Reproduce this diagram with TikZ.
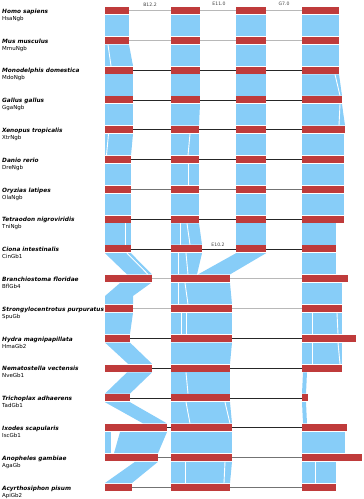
\documentclass[tikz,border=0pt]{standalone}
\usepackage{fontspec}
\setmainfont{DejaVu Sans}
\usepackage{tikz}
\usetikzlibrary{positioning}
\definecolor{exonred}{RGB}{191,59,59}
\definecolor{bandblue}{RGB}{135,205,248}

% band between row #1 and row #1+1
\newcommand{\setband}[1]{\pgfmathsetmacro{\bandtop}{10.5+29.8*(#1-1)+4.3}\pgfmathsetmacro{\bandbot}{10.5+29.8*#1-4.3}}
\newcommand{\band}[5]{\setband{#1}\fill[bandfill] (#2,\bandtop) -- (#3,\bandtop) -- (#4,\bandbot) -- (#5,\bandbot) -- cycle;}
\newcommand{\slit}[3]{\setband{#1}\draw[slitline] (#2,\bandtop) -- (#3,\bandbot);}
\newcommand{\exonbar}[4]{\node[exon,minimum width={(#3-#2)*1pt},anchor=west] (#1) at (#2,#4) {};}

\begin{document}
\begin{tikzpicture}[x=1pt,y=-1pt,
   exon/.style={rectangle,fill=exonred,draw=none,minimum height=7pt,inner sep=0pt,outer sep=0pt},
   bandfill/.style={fill=bandblue},
   slitline/.style={draw=white,line width=0.9pt},
   introlight/.style={draw=black!28,line width=0.8pt},
   introdark/.style={draw=black!85,line width=0.8pt},
   intromid/.style={draw=black!55,line width=0.8pt},
   sp/.style={anchor=base west,inner sep=0pt,font=\fontsize{5.8}{6}\selectfont\bfseries\itshape},
   gn/.style={anchor=base west,inner sep=0pt,font=\fontsize{5.5}{6}\selectfont},
   posnote/.style={inner sep=0pt,text=black!75,font=\fontsize{4.6}{5}\selectfont}]
  \useasboundingbox (0,0) rectangle (364,499);
  % species and gene names
  \node[sp] (hsa) at (2,13.2) {Homo sapiens};
  \node[gn] (hsag) at (2,20.3) {HsaNgb};
  \node[sp] (mmu) at (2,43) {Mus musculus};
  \node[gn] (mmug) at (2,50.1) {MmuNgb};
  \node[sp] (mdo) at (2,72.8) {Monodelphis domestica};
  \node[gn] (mdog) at (2,79.9) {MdoNgb};
  \node[sp] (gga) at (2,102.6) {Gallus gallus};
  \node[gn] (ggag) at (2,109.7) {GgaNgb};
  \node[sp] (xtr) at (2,132.4) {Xenopus tropicalis};
  \node[gn] (xtrg) at (2,139.5) {XtrNgb};
  \node[sp] (dre) at (2,162.2) {Danio rerio};
  \node[gn] (dreg) at (2,169.3) {DreNgb};
  \node[sp] (ola) at (2,192) {Oryzias latipes};
  \node[gn] (olag) at (2,199.1) {OlaNgb};
  \node[sp] (tni) at (2,221.8) {Tetraodon nigroviridis};
  \node[gn] (tnig) at (2,228.9) {TniNgb};
  \node[sp] (cin) at (2,251.6) {Ciona intestinalis};
  \node[gn] (cing) at (2,258.7) {CinGb1};
  \node[sp] (bfl) at (2,281.4) {Branchiostoma floridae};
  \node[gn] (bflg) at (2,288.5) {BflGb4};
  \node[sp] (spu) at (2,311.2) {Strongylocentrotus purpuratus};
  \node[gn] (spug) at (2,318.3) {SpuGb};
  \node[sp] (hma) at (2,341) {Hydra magnipapillata};
  \node[gn] (hmag) at (2,348.1) {HmaGb2};
  \node[sp] (nve) at (2,370.8) {Nematostella vectensis};
  \node[gn] (nveg) at (2,377.9) {NveGb1};
  \node[sp] (tad) at (2,400.6) {Trichoplax adhaerens};
  \node[gn] (tadg) at (2,407.7) {TadGb1};
  \node[sp] (isc) at (2,430.4) {Ixodes scapularis};
  \node[gn] (iscg) at (2,437.5) {IscGb1};
  \node[sp] (aga) at (2,460.2) {Anopheles gambiae};
  \node[gn] (agag) at (2,467.3) {AgaGb};
  \node[sp] (api) at (2,490) {Acyrthosiphon pisum};
  \node[gn] (apig) at (2,497.1) {ApiGb2};
  % aligned blocks, first exon
  \band{1}{105}{129}{129}{105}
  \band{2}{105}{129}{133}{105} \slit{2}{108}{111}
  \band{3}{105}{133}{133}{105}
  \band{4}{105}{133}{133}{105}
  \band{5}{105}{133}{131}{105} \slit{5}{108.5}{106.5}
  \band{6}{105}{131}{131}{105}
  \band{7}{105}{131}{131}{105}
  \band{8}{105}{131}{131}{105} \slit{8}{125}{125}
  \band{9}{105}{131}{152}{127} \slit{9}{127}{148}
  \setband{10}
  \fill[bandfill] (120,\bandtop) -- (151,\bandtop) -- (133,{\bandtop+13}) -- (133,\bandbot)
     -- (105,\bandbot) -- (105,{\bandtop+13}) -- cycle;
  \band{11}{105}{133}{130}{105}
  \band{12}{105}{130}{152}{128}
  \band{13}{127}{152}{130}{105}
  \band{14}{105}{130}{167}{143}
  \band{15}{105}{111}{111}{105}
  \band{15}{120}{167}{158}{114}
  \band{16}{135}{158}{132}{105}
  % aligned blocks, middle exons
  \band{1}{171}{200}{200}{171}
  \band{2}{171}{200}{200}{171}
  \band{3}{171}{200}{200}{171}
  \band{4}{171}{200}{199}{171}
  \band{5}{171}{199}{199}{171} \slit{5}{190}{188}
  \band{6}{171}{199}{199}{171} \slit{6}{188}{188}
  \band{7}{171}{199}{199}{171}
  \band{8}{171}{199}{202}{171} \slit{8}{180}{180} \slit{8}{187}{190}
  \band{9}{171}{202}{197}{171} \slit{9}{178}{178} \slit{9}{186}{188}
  \band{9}{236}{266}{230}{198}
  \band{10}{171}{230}{232}{171} \slit{10}{178}{178} \slit{10}{185}{188}
  \band{11}{171}{232}{232}{171} \slit{11}{181}{181} \slit{11}{186}{186}
  \band{12}{171}{232}{230}{171}
  \band{13}{171}{230}{230}{171} \slit{13}{186}{188}
  \band{14}{171}{230}{232}{171} \slit{14}{186}{190} \slit{14}{225}{230}
  \band{15}{171}{232}{232}{171}
  \band{16}{171}{232}{230}{171} \slit{16}{185}{185} \slit{16}{225}{224}
  \foreach \r in {1,...,8}{\band{\r}{236}{266}{266}{236}}
  % aligned blocks, last exon
  \band{1}{302}{339}{339}{302}
  \band{2}{302}{339}{339}{302}
  \band{3}{302}{339}{342}{302} \slit{3}{335}{340}
  \band{4}{302}{342}{345}{302} \slit{4}{340}{339}
  \band{5}{302}{344}{344}{302}
  \band{6}{302}{344}{344}{302}
  \band{7}{302}{344}{344}{302}
  \band{8}{302}{336}{336}{302}
  \band{9}{302}{336}{336}{302}
  \band{10}{302}{342}{342}{302}
  \band{11}{302}{342}{342}{302} \slit{11}{312}{312} \slit{11}{337}{338}
  \band{12}{302}{342}{342}{302} \slit{12}{312}{312} \slit{12}{338}{340}
  \band{13}{303}{307}{306}{302}
  \band{14}{302}{306}{307}{303}
  \band{15}{302}{345}{345}{302}
  \band{16}{302}{336}{336}{302} \slit{16}{315}{315}
  % exons
  \exonbar{hsa1}{105}{129}{10.5} \exonbar{hsa2}{171}{200}{10.5} \exonbar{hsa3}{236}{266}{10.5} \exonbar{hsa4}{302}{339}{10.5}
  \exonbar{mmu1}{105}{129}{40.3} \exonbar{mmu2}{171}{200}{40.3} \exonbar{mmu3}{236}{266}{40.3} \exonbar{mmu4}{302}{339}{40.3}
  \exonbar{mdo1}{105}{133}{70.1} \exonbar{mdo2}{171}{200}{70.1} \exonbar{mdo3}{236}{266}{70.1} \exonbar{mdo4}{302}{339}{70.1}
  \exonbar{gga1}{105}{133}{99.9} \exonbar{gga2}{171}{200}{99.9} \exonbar{gga3}{236}{266}{99.9} \exonbar{gga4}{302}{342}{99.9}
  \exonbar{xtr1}{105}{133}{129.7} \exonbar{xtr2}{171}{199}{129.7} \exonbar{xtr3}{236}{266}{129.7} \exonbar{xtr4}{302}{345}{129.7}
  \exonbar{dre1}{105}{131}{159.5} \exonbar{dre2}{171}{199}{159.5} \exonbar{dre3}{236}{266}{159.5} \exonbar{dre4}{302}{344}{159.5}
  \exonbar{ola1}{105}{131}{189.3} \exonbar{ola2}{171}{199}{189.3} \exonbar{ola3}{236}{266}{189.3} \exonbar{ola4}{302}{344}{189.3}
  \exonbar{tni1}{105}{131}{219.1} \exonbar{tni2}{171}{199}{219.1} \exonbar{tni3}{236}{266}{219.1} \exonbar{tni4}{302}{344}{219.1}
  \exonbar{cin1}{105}{131}{248.9} \exonbar{cin2}{171}{202}{248.9} \exonbar{cin3}{236}{266}{248.9} \exonbar{cin4}{302}{336}{248.9}
  \exonbar{bfl1}{105}{152}{278.7} \exonbar{bfl2}{171}{230}{278.7} \exonbar{bfl4}{302}{348}{278.7}
  \exonbar{spu1}{105}{133}{308.5} \exonbar{spu2}{171}{232}{308.5} \exonbar{spu4}{302}{342}{308.5}
  \exonbar{hma1}{105}{130}{338.3} \exonbar{hma2}{171}{232}{338.3} \exonbar{hma4}{302}{356}{338.3}
  \exonbar{nve1}{105}{152}{368.1} \exonbar{nve2}{171}{230}{368.1} \exonbar{nve4}{302}{342}{368.1}
  \exonbar{tad1}{105}{130}{397.9} \exonbar{tad2}{171}{230}{397.9} \exonbar{tad4}{302}{308}{397.9}
  \exonbar{isc1}{105}{167}{427.7} \exonbar{isc2}{171}{232}{427.7} \exonbar{isc4}{302}{347}{427.7}
  \exonbar{aga1}{105}{158}{457.5} \exonbar{aga2}{171}{232}{457.5} \exonbar{aga4}{302}{362}{457.5}
  \exonbar{api1}{105}{132}{487.3} \exonbar{api2}{171}{230}{487.3} \exonbar{api4}{302}{336}{487.3}
  % introns
  \draw[introlight] (hsa1) -- (hsa2) (hsa2) -- (hsa3) (hsa3) -- (hsa4);
  \draw[introlight] (mmu1) -- (mmu2) (mmu2) -- (mmu3) (mmu3) -- (mmu4);
  \draw[introdark] (mdo1) -- (mdo2) (mdo2) -- (mdo3) (mdo3) -- (mdo4);
  \draw[introdark] (gga1) -- (gga2) (gga2) -- (gga3) (gga3) -- (gga4);
  \draw[introdark] (xtr1) -- (xtr2) (xtr2) -- (xtr3) (xtr3) -- (xtr4);
  \draw[introdark] (dre1) -- (dre2) (dre2) -- (dre3) (dre3) -- (dre4);
  \draw[intromid] (ola1) -- (ola2) (ola2) -- (ola3) (ola3) -- (ola4);
  \draw[introdark] (tni1) -- (tni2) (tni2) -- (tni3) (tni3) -- (tni4);
  \draw[introdark] (cin1) -- (cin2) (cin2) -- (cin3) (cin3) -- (cin4);
  \draw[introlight] (bfl1) -- (bfl2) (bfl2) -- (bfl4);
  \draw[introlight] (spu1) -- (spu2) (spu2) -- (spu4);
  \draw[introdark] (hma1) -- (hma2) (hma2) -- (hma4);
  \draw[introdark] (nve1) -- (nve2) (nve2) -- (nve4);
  \draw[introdark] (tad1) -- (tad2) (tad2) -- (tad4);
  \draw[introdark] (isc1) -- (isc2) (isc2) -- (isc4);
  \draw[intromid] (aga1) -- (aga2) (aga2) -- (aga4);
  \draw[intromid] (api1) -- (api2) (api2) -- (api4);
  % intron positions
  \node[posnote] (b122) at (150,4.3) {B12.2};
  \node[posnote] (e110) at (219,4.3) {E11.0};
  \node[posnote] (g70) at (284,4.3) {G7.0};
  \node[posnote] (e102) at (218,244.8) {E10.2};
\end{tikzpicture}
\end{document}
